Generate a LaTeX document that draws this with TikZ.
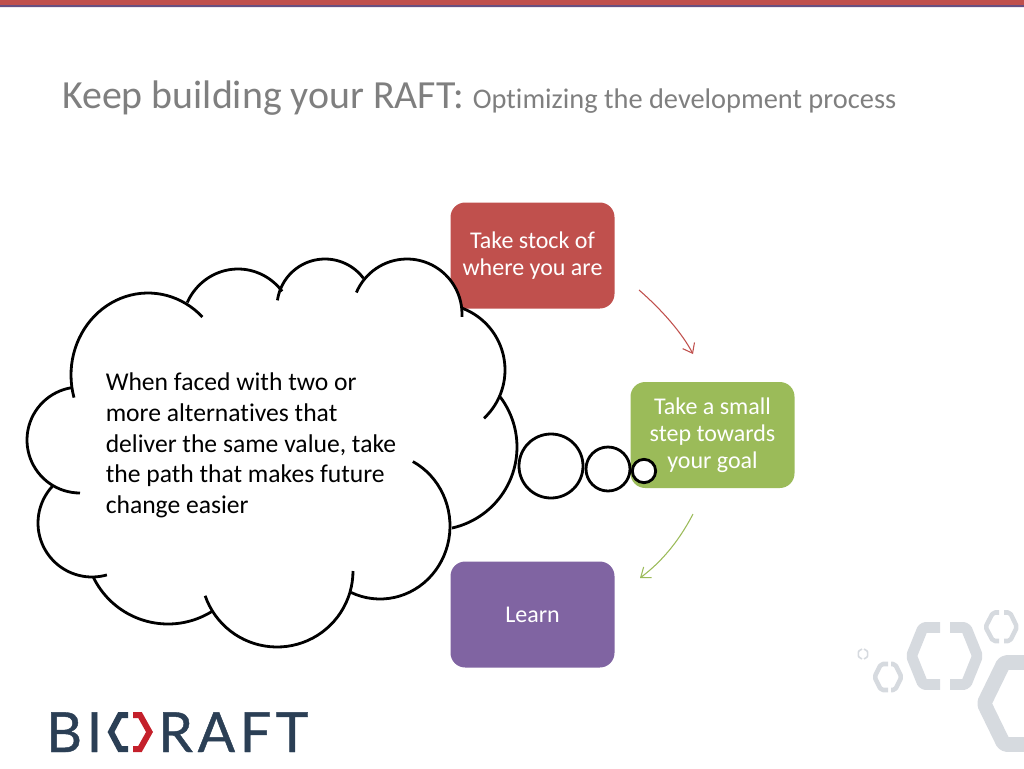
\documentclass[tikz,border=0pt]{standalone}
\usepackage{fontspec}
\setmainfont[Ligatures=NoCommon]{Carlito}
\newfontfamily\logofont[LetterSpace=8.5,FakeBold=0.8]{Lato}
\usetikzlibrary{arrows.meta}
\definecolor{stockred}{HTML}{C0504D}
\definecolor{stepgreen}{HTML}{9BBB59}
\definecolor{learnpurple}{HTML}{8064A2}
\definecolor{titlegray}{HTML}{7F7F7F}
\definecolor{hexgray}{HTML}{D6DADF}
\definecolor{logonavy}{HTML}{2B3F55}
\definecolor{logored}{HTML}{C4202B}
\tikzset{
  stepbox/.style={rounded corners=11, minimum width=123, minimum height=79.5,
    inner sep=0pt, align=center, text=white, font=\fontsize{18}{20.25}\selectfont},
  puffline/.style={black, line width=2.1pt},
  hexline/.style={hexgray, line join=round, rounded corners=1.5},
  logotext/.style={anchor=base west, inner sep=0pt, text depth=0pt, text=logonavy,
    font=\logofont\fontsize{41.5}{42}\selectfont},
  steparrow/.style={line width=0.8pt, -{Straight Barb[length=6.5pt,width=10pt]}}
}
\begin{document}
\begin{tikzpicture}[x=0.75pt, y=-0.75pt]
  \useasboundingbox (0,0) rectangle (1024,768);
  % Top bar
  \fill[stockred] (0,0) rectangle (1024,5);
  \fill[learnpurple!80!black] (0,5) rectangle (1024,7);
  \fill[learnpurple!15] (0,7) rectangle (1024,8);

  % Title
  \node[anchor=base west, inner sep=0pt, text=titlegray, font=\fontsize{29.9}{32}\selectfont]
    (title) at (62,108) {Keep building your RAFT: {\fontsize{21.3}{24}\selectfont Optimizing the development process}};

  % Hexagons in the corner
  \draw[hexline, line width=8.2] (940,627.5) -- (923,627.5) -- (911.5,656) -- (923,684.5) -- (940,684.5);
  \draw[hexline, line width=8.2] (950,627.5) -- (966,627.5) -- (977.5,656) -- (966,684.5) -- (950,684.5);
  \draw[hexline, line width=3.4] (999,612.5) -- (993,612.5) -- (985.5,627) -- (993,641) -- (999,641);
  \draw[hexline, line width=3.4] (1004,612.5) -- (1010,612.5) -- (1017,627) -- (1010,641) -- (1004,641);
  \draw[hexline, line width=3.4] (888,664) -- (881,664) -- (874.5,677) -- (881,690) -- (888,690);
  \draw[hexline, line width=3.4] (891,664) -- (895,664) -- (901.5,677) -- (895,690) -- (891,690);
  \draw[hexline, line width=1.2] (862,649) -- (860,649) -- (857.5,654) -- (860,659) -- (862,659);
  \draw[hexline, line width=1.2] (864,649) -- (866,649) -- (868.5,654) -- (866,659) -- (864,659);
  \draw[hexline, line width=11] (1030,662.5) -- (1004,662.5) -- (984,703.5) -- (1004,744.5) -- (1030,744.5);

  % Logo
  \node[logotext] (logobi) at (46,752) {BI};
  \node[logotext] (lograft) at (158,752) {RAFT};
  \draw[logonavy, line width=4.5] (128,715) -- (120,715) -- (111,732) -- (120,749) -- (128,749);
  \draw[logored, line width=4.5] (133,715) -- (140,715) -- (149.5,732) -- (140,749) -- (133,749);

  % The three steps
  \node[stepbox, fill=stockred] (stock) at (532.5,255.5) {Take stock of\\where you are};
  \node[stepbox, fill=stepgreen] (small) at (712.5,435) {Take a small\\step towards\\your goal};
  \node[stepbox, fill=learnpurple] (learn) at (532.5,614.5) {Learn};

  % Arrows between the steps
  \coordinate (redstart) at (639,290);
  \coordinate (redend) at (693,354);
  \coordinate (greenstart) at (693,514);
  \coordinate (greenend) at (640,578);
  \draw[steparrow, stockred] (redstart) .. controls (662,310) and (682,333) .. (redend);
  \draw[steparrow, stepgreen] (greenstart) .. controls (678,543) and (660,563) .. (greenend);

  % Cloud: white ground, then one stroke per puff
  \fill[white] (74,399) -- (71,372) -- (84,330) -- (112,302) -- (148,293) -- (187,303) -- (208,279)
    -- (238,270) -- (262,276) -- (282,288) -- (298,268) -- (325,259) -- (349,266) -- (364,278)
    -- (366,277) -- (385,264) -- (407,259) -- (431,264.5) -- (451,281) -- (460,300) -- (462,308) -- (484,325)
    -- (500,350) -- (505,372) -- (500,397) -- (513,420) -- (517,443) -- (510,478) -- (488,508)
    -- (452,528) -- (437,568) -- (412,590) -- (385,599) -- (351,589) -- (335,620) -- (310,640)
    -- (277,647) -- (245,640) -- (213,610) -- (168,624) -- (135,618) -- (93,577) -- (75,575)
    -- (52,556) -- (38,523) -- (52,486) -- (34,465) -- (27,440) -- (34,413) -- cycle;
  \foreach \cx/\cy/\rx/\ry/\from/\upto in {
      148/375/77/82/164/315, 238/327/56/58/205/322, 325/307/48/48/188/323,
      407/314/55/55/203/363, 439/370/66/66/-70/47, 434/447/83/83/-37/77.5,
      380/526/70/73/-62/114.5, 277/571/76/76/0/161, 168/541/83/83/57/154.4,
      92/523/54/54/74/223, 80/440/53/53/90/261} {
    \draw[puffline] plot[domain=\from:\upto, samples=40, variable=\t]
      ({\cx+\rx*cos(\t)},{\cy+\ry*sin(\t)});
  }

  % Thought bubbles
  \node[circle, draw=black, fill=white, line width=2.1pt, minimum size=48, inner sep=0pt] (puffa) at (551,466) {};
  \node[circle, draw=black, fill=white, line width=2.1pt, minimum size=33, inner sep=0pt] (puffb) at (608,469) {};
  \node[circle, draw=black, fill=white, line width=2.1pt, minimum size=17.5, inner sep=0pt] (puffc) at (644,471) {};

  \node[anchor=north west, inner sep=0pt, align=left, font=\fontsize{19.2}{23.05}\selectfont]
    (rule) at (105.5,372.6) {When faced with two or\\more alternatives that\\deliver the same value, take\\the path that makes future\\change easier};
\end{tikzpicture}
\end{document}
